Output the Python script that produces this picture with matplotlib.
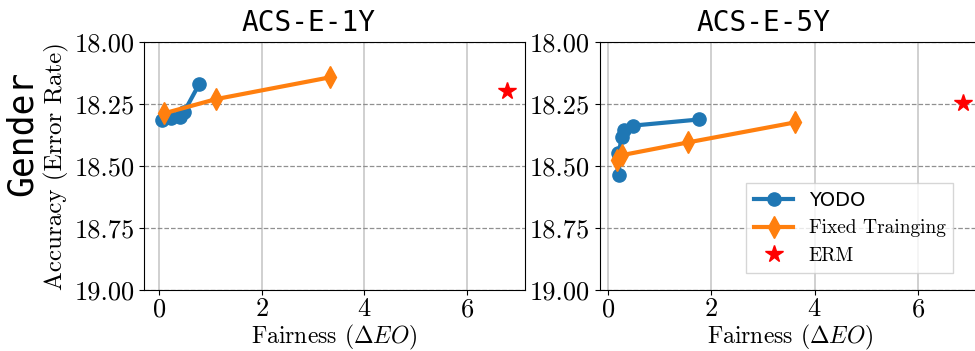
import matplotlib
matplotlib.use("Agg")
import matplotlib.pyplot as plt

plt.rcParams["font.family"] = "cmr10"
plt.rcParams["mathtext.fontset"] = "cm"
plt.rcParams["axes.formatter.use_mathtext"] = True

titles = ["ACS-E-1Y", "ACS-E-5Y"]

# ACS-E-1Y
yodo_x_1 = [0.05, 0.23, 0.41, 0.49, 0.78]
yodo_y_1 = [18.315, 18.308, 18.304, 18.281, 18.17]
fixed_x_1 = [0.09, 1.11, 3.33]
fixed_y_1 = [18.288, 18.23, 18.142]
erm_x_1 = [6.78]
erm_y_1 = [18.198]

# ACS-E-5Y
yodo_x_5 = [0.22, 0.20, 0.27, 0.30, 0.48, 1.77]
yodo_y_5 = [18.536, 18.449, 18.382, 18.355, 18.337, 18.312]
fixed_x_5 = [0.17, 0.27, 1.54, 3.62]
fixed_y_5 = [18.476, 18.456, 18.405, 18.324]
erm_x_5 = [6.87]
erm_y_5 = [18.245]

y_ticks = [18.00, 18.25, 18.50, 18.75, 19.00]

panels = [
    (yodo_x_1, yodo_y_1, fixed_x_1, fixed_y_1, erm_x_1, erm_y_1),
    (yodo_x_5, yodo_y_5, fixed_x_5, fixed_y_5, erm_x_5, erm_y_5),
]

fig = plt.figure(figsize=(9.75, 3.51), dpi=100)
ax1 = fig.add_axes([0.148, 0.174, 0.390, 0.706])
ax2 = fig.add_axes([0.615, 0.174, 0.390, 0.706])

for ax, title, (yx, yy, fx, fy, ex, ey) in zip([ax1, ax2], titles, panels):
    ax.plot(yx, yy, "-o", color="#1f77b4", lw=3, ms=9.5, label="YODO", zorder=3)
    ax.plot(fx, fy, "-d", color="#ff7f0e", lw=3, ms=11, label="Fixed Trainging", zorder=3)
    ax.plot(ex, ey, "*", color="red", ms=13, ls="none", label="ERM", zorder=3)

    ax.set_ylim(19.0, 18.0)
    ax.set_yticks(y_ticks)
    ax.set_yticklabels([f"{v:.2f}" for v in y_ticks])
    ax.set_xticks([0, 2, 4, 6])
    ax.grid(axis="x", color="#c8c8c8", lw=1.2, ls="-")
    ax.grid(axis="y", color="#909090", lw=0.9, ls="--")
    ax.set_axisbelow(True)
    ax.tick_params(labelsize=19)
    ax.tick_params(axis="x", pad=2)
    ax.set_xlabel(r"Fairness ($\Delta EO$)", fontsize=17, labelpad=1)
    ax.set_title(title, fontsize=20, family="DejaVu Sans Mono", pad=8, x=0.432)

ax1.set_ylabel("Accuracy (Error Rate)", fontsize=18, labelpad=4)
fig.text(0.022, 0.62, "Gender", rotation=90, fontsize=25,
         family="DejaVu Sans Mono", ha="center", va="center")

leg = ax2.legend(loc="lower right", bbox_to_anchor=(0.93, 0.069),
                 borderaxespad=0, fontsize=14, framealpha=0.8, fancybox=False)
leg.get_texts()[0].set_family("DejaVu Sans")

fig.savefig("out.png", dpi=100)
